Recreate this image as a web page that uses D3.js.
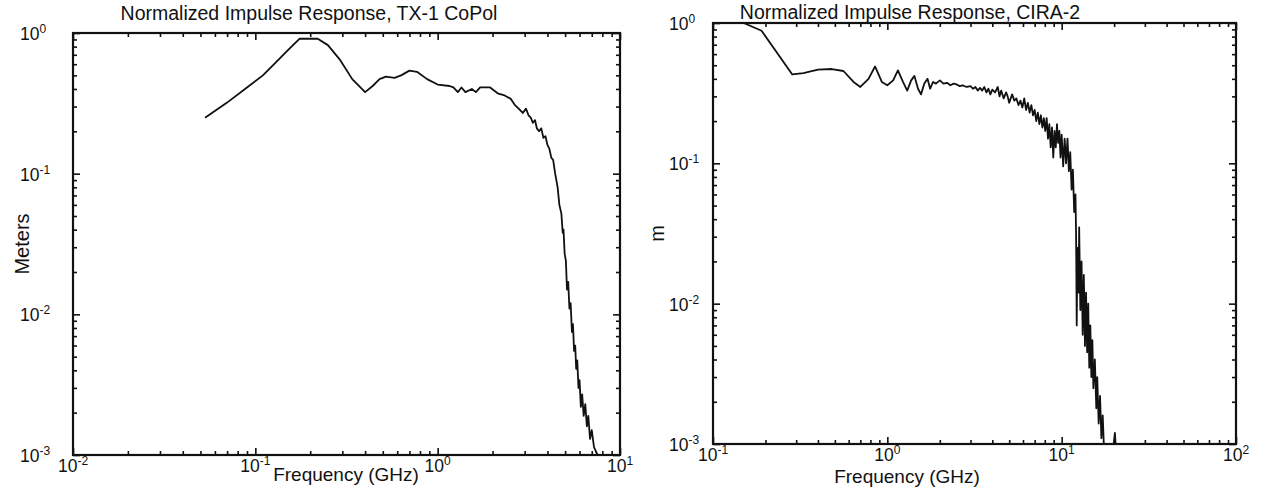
<!DOCTYPE html>
<html>
<head>
<meta charset="utf-8">
<script src="https://cdn.jsdelivr.net/npm/d3@7"></script>
<style>
  body { margin: 0; background: #fff; }
  text { font-family: "Liberation Sans", Arial, sans-serif; fill: #111; }
</style>
</head>
<body>
<svg width="1267" height="487"></svg>
<script>
const svg = d3.select('svg')

// TX-1 CoPol response (GHz, meters)
const txFreq = [0.053, 0.070, 0.090, 0.110, 0.130, 0.150, 0.170, 0.175, 0.220, 0.250,
  0.290, 0.340, 0.400, 0.440, 0.480, 0.520, 0.580, 0.630, 0.700, 0.770,
  0.875, 1.000, 1.160, 1.220, 1.290, 1.350, 1.420, 1.540, 1.620, 1.710,
  1.850, 1.940, 2.150, 2.330, 2.520, 2.640, 2.780, 2.930, 3.050, 3.150,
  3.240, 3.330, 3.420, 3.500, 3.600, 3.700, 3.800, 3.900, 4.000, 4.100,
  4.200, 4.300, 4.410, 4.550, 4.650, 4.770, 4.850, 4.900, 4.970, 5.050,
  5.120, 5.200, 5.280, 5.360, 5.450, 5.520, 5.600, 5.680, 5.750, 5.830,
  5.920, 6.000, 6.100, 6.200, 6.320, 6.450, 6.580, 6.700, 6.850, 7.000,
  7.200, 7.400, 7.600]
const txResp = [0.25, 0.32, 0.41, 0.50, 0.62, 0.75, 0.88, 0.91, 0.91, 0.82,
  0.65, 0.47, 0.38, 0.42, 0.47, 0.49, 0.48, 0.50, 0.54, 0.53,
  0.47, 0.43, 0.42, 0.41, 0.38, 0.41, 0.38, 0.40, 0.38, 0.41,
  0.41, 0.41, 0.37, 0.36, 0.34, 0.31, 0.29, 0.27, 0.29, 0.26,
  0.25, 0.23, 0.24, 0.21, 0.20, 0.21, 0.18, 0.185, 0.16, 0.15,
  0.13, 0.125, 0.10, 0.08, 0.06, 0.052, 0.038, 0.040, 0.027, 0.024,
  0.015, 0.017, 0.011, 0.012, 0.0075, 0.0085, 0.0055, 0.0060, 0.0041, 0.0047,
  0.0030, 0.0034, 0.0022, 0.0027, 0.0019, 0.0023, 0.0016, 0.0019, 0.0013, 0.0015,
  0.00114, 0.00105, 0.00098]

// CIRA-2 response
const ciraFreq = [0.100, 0.150, 0.190, 0.285, 0.330, 0.400, 0.480, 0.560, 0.640, 0.700,
  0.780, 0.850, 0.930, 1.000, 1.080, 1.150, 1.230, 1.300, 1.370, 1.430,
  1.500, 1.560, 1.630, 1.700, 1.760, 1.830, 1.900, 2.000, 2.100, 2.200,
  2.300, 2.400, 2.500, 2.600, 2.700, 2.850, 3.000, 3.100, 3.200, 3.300,
  3.400, 3.500, 3.600, 3.700, 3.800, 3.900, 4.000, 4.150, 4.300, 4.400,
  4.500, 4.650, 4.800, 4.900, 5.000, 5.200, 5.350, 5.500, 5.650, 5.800,
  5.950, 6.100, 6.250, 6.400, 6.550, 6.700, 6.850, 7.000, 7.150, 7.300,
  7.450, 7.600, 7.750, 7.900, 8.050, 8.200, 8.350, 8.500, 8.650, 8.800,
  8.950, 9.100, 9.250, 9.400, 9.550, 9.700, 9.850, 10.00, 10.20, 10.40,
  10.60, 10.80, 11.00, 11.20, 11.40, 11.60, 11.80, 12.00, 12.10, 12.20,
  12.30, 12.50, 12.60, 12.80, 13.00, 13.20, 13.40, 13.60, 13.80, 14.00,
  14.20, 14.40, 14.60, 14.80, 15.00, 15.20, 15.50, 15.80, 16.00, 16.30,
  16.60, 16.90, 17.20, 17.50, 19.50, 20.20, 20.60]
const ciraResp = [1.00, 1.00, 0.88, 0.43, 0.44, 0.465, 0.47, 0.455, 0.38, 0.35,
  0.40, 0.49, 0.38, 0.36, 0.39, 0.46, 0.38, 0.33, 0.39, 0.42,
  0.34, 0.31, 0.37, 0.40, 0.34, 0.38, 0.37, 0.39, 0.37, 0.375,
  0.36, 0.37, 0.365, 0.355, 0.36, 0.35, 0.355, 0.34, 0.35, 0.33,
  0.345, 0.33, 0.35, 0.32, 0.34, 0.31, 0.335, 0.32, 0.35, 0.30,
  0.33, 0.29, 0.32, 0.30, 0.27, 0.31, 0.28, 0.29, 0.26, 0.28,
  0.25, 0.29, 0.24, 0.27, 0.23, 0.26, 0.22, 0.24, 0.20, 0.23,
  0.19, 0.22, 0.18, 0.21, 0.17, 0.21, 0.15, 0.19, 0.13, 0.18,
  0.11, 0.17, 0.13, 0.19, 0.14, 0.17, 0.11, 0.16, 0.095, 0.15,
  0.10, 0.15, 0.088, 0.12, 0.065, 0.09, 0.045, 0.06, 0.030, 0.007,
  0.025, 0.012, 0.035, 0.009, 0.02, 0.006, 0.016, 0.005, 0.012, 0.0045,
  0.010, 0.0035, 0.007, 0.003, 0.0055, 0.0025, 0.0040, 0.0018, 0.0030, 0.0014,
  0.0022, 0.0011, 0.0016, 0.0009, 0.0008, 0.0012, 0.0008]

// decade exponents for the tick labels
const txXExp = [-2, -1, 0, 1]
const ciraXExp = [-1, 0, 1, 2]
const yExp = [0, -1, -2, -3]

const panels = [
  { title: 'Normalized Impulse Response, TX-1 CoPol', ylabel: 'Meters',
    freq: txFreq, resp: txResp, xExp: txXExp,
    left: 73, right: 620, top: 33, bottom: 455,
    titleX: 309, titleY: 20, xlabelX: 346, xlabelY: 481,
    tickY: 472, yTickX: 20, ylabelX: 29 },
  { title: 'Normalized Impulse Response, CIRA-2', ylabel: 'm',
    freq: ciraFreq, resp: ciraResp, xExp: ciraXExp,
    left: 713, right: 1236, top: 23, bottom: 444,
    titleX: 910, titleY: 19, xlabelX: 907, xlabelY: 483,
    tickY: 461, yTickX: 669, ylabelX: 664 }
]

function powLabel(g, x, y, exp, anchor) {
  const t = g.append('text')
    .attr('x', x).attr('y', y)
    .attr('text-anchor', anchor)
    .style('font-size', '17.5px')
  t.append('tspan').text('10')
  t.append('tspan').attr('dy', -7).style('font-size', '12px').text(exp)
}

panels.forEach((p, i) => {
  const xMin = Math.pow(10, p.xExp[0]), xMax = Math.pow(10, p.xExp[p.xExp.length - 1])
  const x = d3.scaleLog().domain([xMin, xMax]).range([p.left, p.right])
  const y = d3.scaleLog().domain([1e-3, 1]).range([p.bottom, p.top])
  const g = svg.append('g')

  g.append('clipPath').attr('id', 'clip' + i)
    .append('rect')
    .attr('x', p.left).attr('y', p.top)
    .attr('width', p.right - p.left).attr('height', p.bottom - p.top)

  // major and minor tick values
  const xMajor = p.xExp.map(e => Math.pow(10, e))
  const yMajor = yExp.map(e => Math.pow(10, e))
  const xMinor = [], yMinor = []
  for (let e = p.xExp[0]; e < p.xExp[p.xExp.length - 1]; e++)
    for (let k = 2; k <= 9; k++) xMinor.push(k * Math.pow(10, e))
  for (let e = -3; e < 0; e++)
    for (let k = 2; k <= 9; k++) yMinor.push(k * Math.pow(10, e))

  const ticks = [
    [d3.axisBottom, x, `translate(0,${p.bottom})`],
    [d3.axisTop, x, `translate(0,${p.top})`],
    [d3.axisLeft, y, `translate(${p.left},0)`],
    [d3.axisRight, y, `translate(${p.right},0)`]
  ]
  ticks.forEach(([axisFn, scale, tr]) => {
    const isX = scale === x
    g.append('g').attr('transform', tr)
      .call(axisFn(scale).tickValues(isX ? xMinor : yMinor).tickSize(-4).tickFormat(''))
      .call(a => a.select('.domain').remove())
    g.append('g').attr('transform', tr)
      .call(axisFn(scale).tickValues(isX ? xMajor : yMajor).tickSize(-7).tickFormat(''))
      .call(a => a.select('.domain').remove())
  })
  g.selectAll('.tick line').attr('stroke', '#111').attr('stroke-width', 1.6)

  // the curve
  const line = d3.line()
    .x((d, j) => x(p.freq[j]))
    .y((d, j) => y(p.resp[j]))
  g.append('path')
    .datum(p.resp)
    .attr('clip-path', `url(#clip${i})`)
    .attr('d', line)
    .attr('fill', 'none')
    .attr('stroke', '#111')
    .attr('stroke-width', 1.8)
    .attr('stroke-linejoin', 'round')

  // frame
  g.append('rect')
    .attr('x', p.left).attr('y', p.top)
    .attr('width', p.right - p.left).attr('height', p.bottom - p.top)
    .attr('fill', 'none').attr('stroke', '#111').attr('stroke-width', 2.2)

  // tick labels
  p.xExp.forEach(e => powLabel(g, x(Math.pow(10, e)), p.tickY, e, 'middle'))
  yExp.forEach(e => powLabel(g, p.yTickX, y(Math.pow(10, e)) + 7, e, 'start'))

  // titles
  g.append('text')
    .attr('x', p.titleX).attr('y', p.titleY)
    .attr('text-anchor', 'middle')
    .style('font-size', '19.5px')
    .text(p.title)
  g.append('text')
    .attr('x', p.xlabelX).attr('y', p.xlabelY)
    .attr('text-anchor', 'middle')
    .style('font-size', '19px')
    .text('Frequency (GHz)')
  g.append('text')
    .attr('transform', `translate(${p.ylabelX},${(p.top + p.bottom) / 2}) rotate(-90)`)
    .attr('text-anchor', 'middle')
    .style('font-size', '20px')
    .text(p.ylabel)
})
</script>
</body>
</html>
